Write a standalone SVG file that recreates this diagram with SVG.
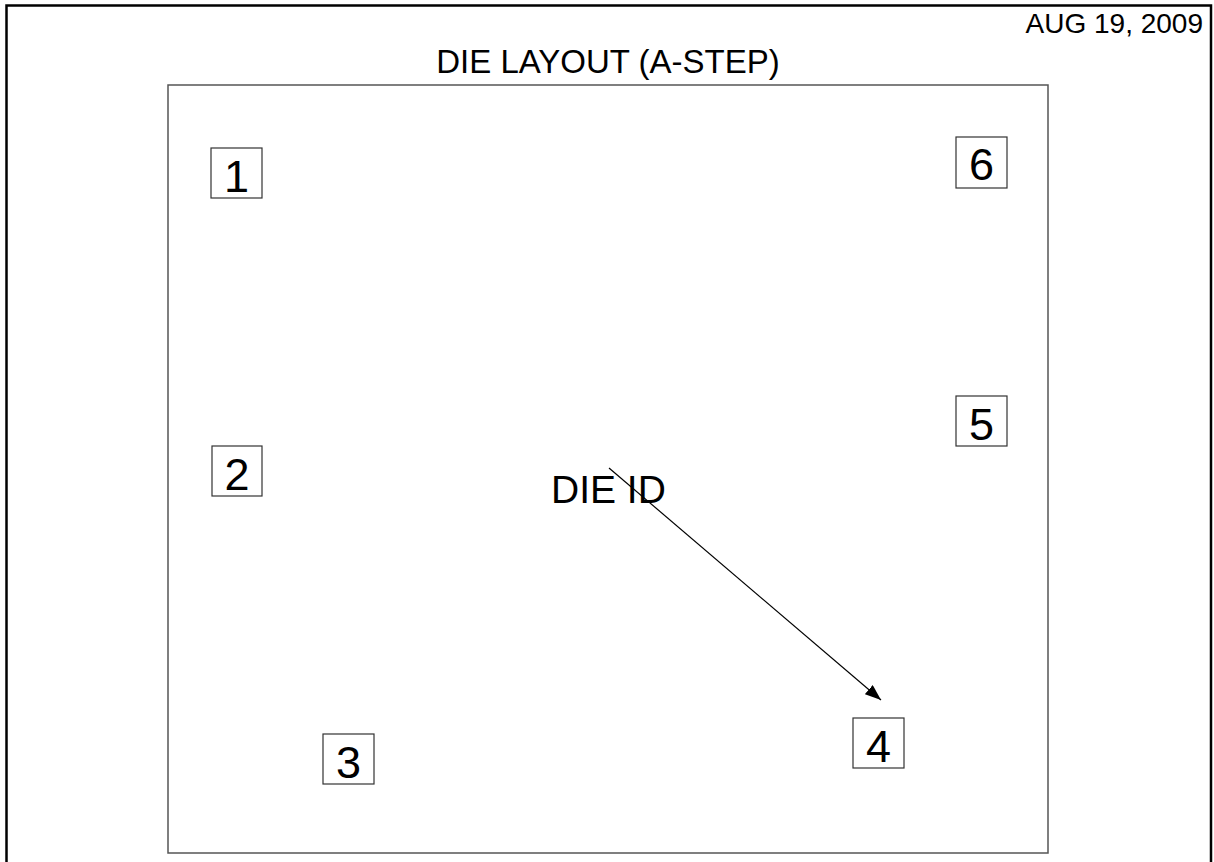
<svg xmlns="http://www.w3.org/2000/svg" width="1214" height="862" viewBox="0 0 1214 862">
<style>
text{font-family:"Liberation Sans",Arial,sans-serif;fill:#000}
.box rect{fill:#fff;stroke:#333;stroke-width:1.2}
.box text{font-size:45px;text-anchor:middle}
</style>
<defs>
<marker id="ah" markerWidth="16" markerHeight="12" refX="16" refY="6" orient="auto" markerUnits="userSpaceOnUse">
<path d="M0,0 L16,6 L0,12 Z" fill="#000"/>
</marker>
</defs>
<rect x="0" y="0" width="1214" height="862" fill="#fff"/>
<rect x="6.5" y="5.5" width="1204.5" height="880" fill="none" stroke="#000" stroke-width="2.5"/>
<text x="1203" y="33" font-size="28" text-anchor="end">AUG 19, 2009</text>
<text x="608" y="73" font-size="33" text-anchor="middle">DIE LAYOUT (A-STEP)</text>
<rect x="168" y="85" width="880" height="768" fill="none" stroke="#555" stroke-width="1.5"/>
<g id="node1" class="box"><rect x="211" y="148" width="51" height="50"/><text x="236.5" y="192">1</text></g>
<g id="node2" class="box"><rect x="212" y="446" width="50" height="50"/><text x="237" y="490">2</text></g>
<g id="node3" class="box"><rect x="323" y="734" width="51" height="50"/><text x="348.5" y="778">3</text></g>
<g id="node4" class="box"><rect x="853" y="718" width="51" height="50"/><text x="878.5" y="762">4</text></g>
<g id="node5" class="box"><rect x="956" y="396" width="51" height="50"/><text x="981.5" y="440">5</text></g>
<g id="node6" class="box"><rect x="956" y="137" width="51" height="51"/><text x="981.5" y="180">6</text></g>
<g id="dieid"><text x="551" y="503" font-size="39">DIE ID</text></g>
<g id="connectors">
<line x1="609" y1="468" x2="881" y2="700" stroke="#000" stroke-width="1.2" marker-end="url(#ah)"/>
</g>
</svg>
